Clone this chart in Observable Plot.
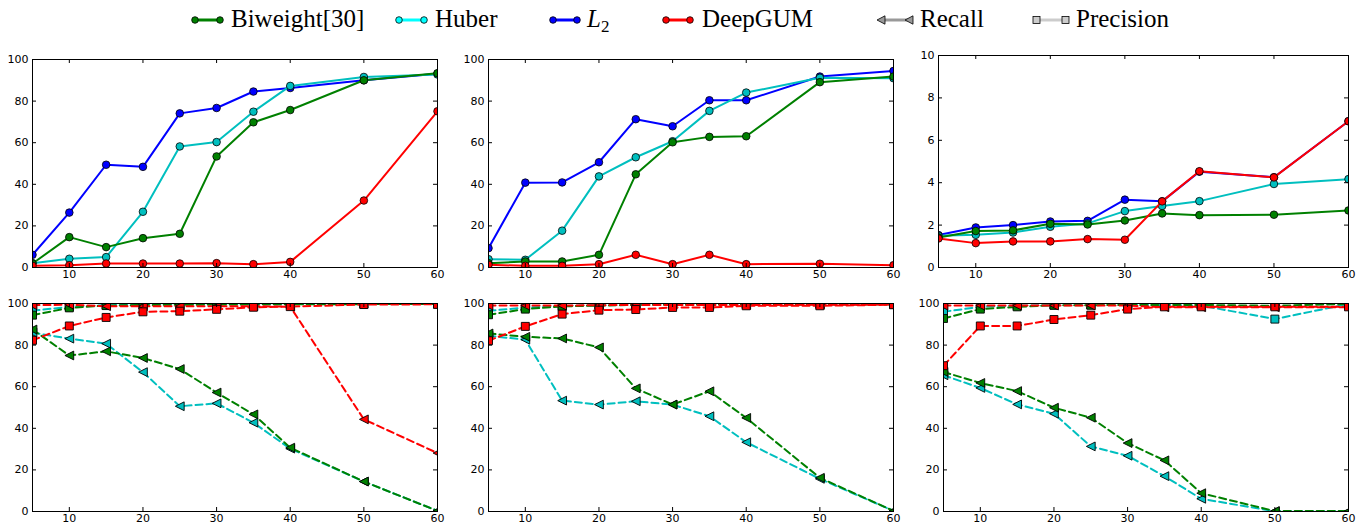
<!DOCTYPE html>
<html>
<head>
<meta charset="utf-8">
<script src="https://cdn.jsdelivr.net/npm/d3@7"></script>
<script src="https://cdn.jsdelivr.net/npm/@observablehq/plot@0.6"></script>
<style>
  body { margin: 0; background: #fff; }
  #root { position: relative; width: 1368px; height: 528px; overflow: hidden; background: #fff; }
  #root svg { position: absolute; }
</style>
</head>
<body>
<div id="root"></div>
<script>
// ---------- data ----------
const noise = [5, 10, 15, 20, 25, 30, 35, 40, 50, 60];
const xTicks = [10, 20, 30, 40, 50, 60];
const yTicksPct = [0, 20, 40, 60, 80, 100];
const yTicksSmall = [0, 2, 4, 6, 8, 10];
const methodLabels = ["Biweight[30]", "Huber", "L2", "DeepGUM"];
const metricLabels = ["Recall", "Precision"];

// top row, panel 1
const a_l2       = [6.1, 26.4, 49.4, 48.4, 74.1, 76.7, 84.6, 86.3, 90.0, 93.2];
const a_huber    = [2.1, 4.2, 5.0, 26.8, 58.2, 60.3, 74.9, 87.3, 91.6, 92.8];
const a_biweight = [1.9, 14.6, 9.8, 14.1, 16.2, 53.4, 69.8, 75.7, 90.0, 93.4];
const a_deepgum  = [0.8, 1.1, 1.9, 1.9, 1.9, 2.1, 1.6, 2.7, 32.2, 75.1];
// top row, panel 2
const b_l2       = [9.3, 40.8, 40.9, 50.6, 71.3, 67.9, 80.4, 80.4, 91.8, 94.5];
const b_huber    = [4.0, 3.7, 17.7, 43.8, 53.0, 60.7, 75.3, 84.1, 91.2, 91.0];
const b_biweight = [2.1, 2.9, 2.9, 6.1, 44.8, 60.2, 62.8, 63.1, 89.1, 91.8];
const b_deepgum  = [1.3, 0.8, 0.8, 1.6, 6.1, 1.6, 6.1, 1.6, 1.8, 1.1];
// top row, panel 3
const c_l2       = [1.53, 1.89, 2.0, 2.17, 2.2, 3.2, 3.12, 4.52, 4.26, 6.9];
const c_huber    = [1.5, 1.54, 1.65, 1.92, 2.08, 2.66, 2.9, 3.13, 3.94, 4.17];
const c_biweight = [1.42, 1.72, 1.75, 2.06, 2.03, 2.22, 2.55, 2.47, 2.49, 2.69];
const c_deepgum  = [1.37, 1.15, 1.23, 1.23, 1.34, 1.31, 3.12, 4.54, 4.25, 6.9];
// bottom row, panel 1
const d_huberRecall       = [86.0, 83.1, 80.7, 67.0, 50.6, 52.0, 42.7, 30.2, 14.4, 0.3];
const d_huberPrecision    = [96.5, 98.4, 99.2, 99.4, 99.5, 99.6, 99.6, 99.7, 99.7, 99.8];
const d_biweightRecall    = [87.5, 75.0, 77.0, 73.8, 68.5, 57.2, 46.7, 30.7, 14.4, 0.3];
const d_biweightPrecision = [94.4, 97.9, 99.0, 99.3, 99.4, 99.5, 99.6, 99.6, 99.7, 99.8];
const d_deepgumRecall     = [99.2, 99.4, 98.7, 98.7, 98.7, 98.7, 98.7, 98.5, 44.3, 28.1];
const d_deepgumPrecision  = [82.3, 89.2, 93.3, 96.0, 96.3, 97.2, 98.2, 98.5, 99.5, 99.6];
// bottom row, panel 2
const e_huberRecall       = [84.5, 82.6, 53.3, 51.4, 53.0, 51.4, 45.8, 33.3, 15.7, 0.3];
const e_huberPrecision    = [96.5, 98.0, 98.8, 99.2, 99.4, 99.5, 99.5, 99.6, 99.6, 99.7];
const e_biweightRecall    = [85.6, 84.0, 83.2, 78.9, 59.2, 51.4, 57.8, 45.0, 16.2, 0.3];
const e_biweightPrecision = [94.6, 97.3, 98.6, 99.0, 99.3, 99.4, 99.5, 99.5, 99.6, 99.7];
const e_deepgumRecall     = [99.0, 99.0, 99.0, 99.2, 99.3, 99.3, 99.3, 99.3, 99.4, 99.5];
const e_deepgumPrecision  = [82.1, 89.0, 94.9, 96.8, 97.1, 98.1, 98.1, 98.9, 98.9, 99.4];
// bottom row, panel 3
const f_huberRecall       = [65.5, 59.4, 51.5, 47.0, 31.3, 26.8, 17.0, 6.1, 0.1, 0.1];
const f_huberPrecision    = [96.0, 98.4, 99.0, 99.2, 99.3, 99.3, 99.3, 99.0, 92.5, 99.8];
const f_biweightRecall    = [67.1, 61.8, 57.9, 49.9, 45.1, 32.9, 24.6, 8.8, 0.2, 0.2];
const f_biweightPrecision = [92.8, 97.3, 98.4, 99.2, 99.2, 99.3, 99.3, 99.3, 98.9, 99.8];
const f_deepgumRecall     = [99.0, 99.0, 99.0, 99.0, 99.0, 99.0, 98.2, 98.2, 98.2, 98.2];
const f_deepgumPrecision  = [70.1, 89.2, 89.2, 92.3, 94.4, 97.3, 98.4, 98.4, 98.4, 98.4];

// ---------- styles ----------
const colors = {biweight: "#008000", huber: "#00bfbf", l2: "#0000ff", deepgum: "#ff0000"};
const legendColors = {biweight: "#008000", huber: "#00ffff", l2: "#0000ff", deepgum: "#ff0000", recall: "#999999", precision: "#cccccc"};

const triLeft = {
  draw(ctx, size) {
    const a = Math.sqrt(size) * 0.55;
    ctx.moveTo(-a, 0); ctx.lineTo(a, -a); ctx.lineTo(a, a); ctx.closePath();
  }
};

function pts(values) { return noise.map((x, i) => ({x, y: values[i]})); }

function solidSeries(values, color) {
  const data = pts(values);
  return [
    Plot.line(data, {x: "x", y: "y", stroke: color, strokeWidth: 2, clip: true}),
    Plot.dot(data, {x: "x", y: "y", r: 3.8, fill: color, stroke: "black", strokeWidth: 0.8, clip: true})
  ];
}
function dashedSeries(values, color, symbol) {
  const data = pts(values);
  return [
    Plot.line(data, {x: "x", y: "y", stroke: color, strokeWidth: 2, strokeDasharray: "7,4", clip: true}),
    Plot.dot(data, {x: "x", y: "y", r: 4.5, symbol, fill: color, stroke: "black", strokeWidth: 0.9, clip: true})
  ];
}

const root = document.getElementById("root");

function panel(frame, yDomain, yTicks, marks) {
  const mL = 34, mR = 16, mT = 10, mB = 22;
  const fig = Plot.plot({
    width: mL + frame.w + mR,
    height: mT + frame.h + mB,
    marginLeft: mL, marginRight: mR, marginTop: mT, marginBottom: mB,
    x: {domain: [5, 60], label: null},
    y: {domain: yDomain, label: null},
    style: {fontFamily: "'DejaVu Sans', sans-serif", fontSize: "11px", color: "#000", background: "transparent", overflow: "visible"},
    marks: [
      ...marks,
      Plot.frame({stroke: "black", strokeWidth: 1}),
      Plot.tickX(xTicks, {x: d => d, insetTop: frame.h - 4, stroke: "black"}),
      Plot.tickX(xTicks, {x: d => d, insetBottom: frame.h - 4, stroke: "black"}),
      Plot.tickY(yTicks, {y: d => d, insetRight: frame.w - 4, stroke: "black"}),
      Plot.tickY(yTicks, {y: d => d, insetLeft: frame.w - 4, stroke: "black"}),
      Plot.axisX(xTicks, {tickSize: 0, tickPadding: 3, label: null, fontSize: 11, fill: "#000"}),
      Plot.axisY(yTicks, {tickSize: 0, tickPadding: 4, label: null, fontSize: 11, fill: "#000"})
    ]
  });
  fig.style.left = (frame.x - mL) + "px";
  fig.style.top = (frame.y - mT) + "px";
  root.appendChild(fig);
}

// ---------- top row ----------
panel({x: 32, y: 59, w: 405, h: 208}, [0, 100], yTicksPct, [
  ...solidSeries(a_l2, colors.l2), ...solidSeries(a_huber, colors.huber),
  ...solidSeries(a_biweight, colors.biweight), ...solidSeries(a_deepgum, colors.deepgum)
]);
panel({x: 488, y: 59, w: 405, h: 208}, [0, 100], yTicksPct, [
  ...solidSeries(b_l2, colors.l2), ...solidSeries(b_huber, colors.huber),
  ...solidSeries(b_biweight, colors.biweight), ...solidSeries(b_deepgum, colors.deepgum)
]);
panel({x: 938, y: 55, w: 410, h: 212}, [0, 10], yTicksSmall, [
  ...solidSeries(c_l2, colors.l2), ...solidSeries(c_huber, colors.huber),
  ...solidSeries(c_biweight, colors.biweight), ...solidSeries(c_deepgum, colors.deepgum)
]);

// ---------- bottom row ----------
panel({x: 32, y: 303, w: 405, h: 208}, [0, 100], yTicksPct, [
  ...dashedSeries(d_huberRecall, colors.huber, triLeft), ...dashedSeries(d_huberPrecision, colors.huber, "square"),
  ...dashedSeries(d_biweightRecall, colors.biweight, triLeft), ...dashedSeries(d_biweightPrecision, colors.biweight, "square"),
  ...dashedSeries(d_deepgumRecall, colors.deepgum, triLeft), ...dashedSeries(d_deepgumPrecision, colors.deepgum, "square")
]);
panel({x: 488, y: 303, w: 405, h: 208}, [0, 100], yTicksPct, [
  ...dashedSeries(e_huberRecall, colors.huber, triLeft), ...dashedSeries(e_huberPrecision, colors.huber, "square"),
  ...dashedSeries(e_biweightRecall, colors.biweight, triLeft), ...dashedSeries(e_biweightPrecision, colors.biweight, "square"),
  ...dashedSeries(e_deepgumRecall, colors.deepgum, triLeft), ...dashedSeries(e_deepgumPrecision, colors.deepgum, "square")
]);
panel({x: 943, y: 303, w: 405, h: 208}, [0, 100], yTicksPct, [
  ...dashedSeries(f_huberRecall, colors.huber, triLeft), ...dashedSeries(f_huberPrecision, colors.huber, "square"),
  ...dashedSeries(f_biweightRecall, colors.biweight, triLeft), ...dashedSeries(f_biweightPrecision, colors.biweight, "square"),
  ...dashedSeries(f_deepgumRecall, colors.deepgum, triLeft), ...dashedSeries(f_deepgumPrecision, colors.deepgum, "square")
]);

// ---------- legend ----------
const legendLayout = [
  {label: methodLabels[0], marker: "circle", color: legendColors.biweight, x0: 195, x1: 220, tx: 231},
  {label: methodLabels[1], marker: "circle", color: legendColors.huber, x0: 399, x1: 424, tx: 435},
  {label: methodLabels[2], marker: "circle", color: legendColors.l2, x0: 553, x1: 577, tx: 587},
  {label: methodLabels[3], marker: "circle", color: legendColors.deepgum, x0: 666, x1: 690, tx: 702},
  {label: metricLabels[0], marker: "tri", color: legendColors.recall, x0: 881, x1: 909, tx: 920},
  {label: metricLabels[1], marker: "square", color: legendColors.precision, x0: 1036.5, x1: 1065.5, tx: 1076}
];
const legend = d3.create("svg").attr("width", 1368).attr("height", 46)
  .style("left", "0px").style("top", "0px");
const my = 20;
for (const it of legendLayout) {
  const g = legend.append("g");
  g.append("line").attr("x1", it.x0).attr("x2", it.x1).attr("y1", my).attr("y2", my)
    .attr("stroke", it.color).attr("stroke-width", 3);
  for (const cx of [it.x0, it.x1]) {
    if (it.marker === "circle") {
      g.append("circle").attr("cx", cx).attr("cy", my).attr("r", 3.3)
        .attr("fill", it.color).attr("stroke", "black").attr("stroke-width", 0.8);
    } else if (it.marker === "tri") {
      g.append("path").attr("d", `M${cx - 4},${my} L${cx + 4},${my - 4.2} L${cx + 4},${my + 4.2} Z`)
        .attr("fill", it.color).attr("stroke", "black").attr("stroke-width", 0.8);
    } else {
      g.append("rect").attr("x", cx - 3.5).attr("y", my - 3.5).attr("width", 7).attr("height", 7)
        .attr("fill", it.color).attr("stroke", "black").attr("stroke-width", 0.8);
    }
  }
  const t = g.append("text").attr("x", it.tx).attr("y", 27)
    .attr("font-family", "'Liberation Serif', serif").attr("font-size", 25).attr("fill", "black");
  if (it.label === "L2") {
    t.append("tspan").attr("font-style", "italic").text("L");
    t.append("tspan").attr("font-size", 17).attr("dy", 5).text("2");
  } else {
    t.text(it.label);
  }
}
root.appendChild(legend.node());
</script>
</body>
</html>
